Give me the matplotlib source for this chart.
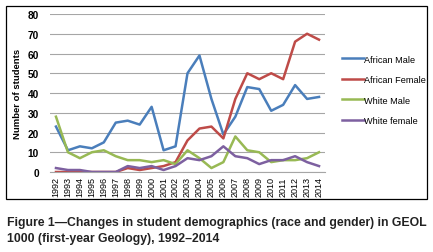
import matplotlib.pyplot as plt
from matplotlib.patches import Rectangle

# Dados
anos = list(range(1992, 2015))
african_male = [23, 11, 13, 12, 15, 25, 26, 24, 33, 11, 13, 50, 59, 37, 19, 28, 43, 42, 31, 34, 44, 37, 38]
african_female = [0, 0, 0, 0, 0, 0, 2, 1, 2, 3, 5, 16, 22, 23, 17, 37, 50, 47, 50, 47, 66, 70, 67]
white_male = [28, 10, 7, 10, 11, 8, 6, 6, 5, 6, 4, 11, 7, 2, 5, 18, 11, 10, 5, 6, 6, 7, 10]
white_female = [2, 1, 1, 0, 0, 0, 3, 2, 3, 1, 3, 7, 6, 8, 13, 8, 7, 4, 6, 6, 8, 5, 3]

series = [
    ("African Male", african_male, "#4A7EBB"),
    ("African Female", african_female, "#BE4B48"),
    ("White Male", white_male, "#98B954"),
    ("White female", white_female, "#7D60A0"),
]

plt.rcParams["font.family"] = ["Liberation Sans", "DejaVu Sans"]

fig = plt.figure(figsize=(4.33, 2.53), dpi=100)

# Moldura do gráfico
fig.patches.append(Rectangle((6 / 433, 1 - 200 / 253), 421 / 433, 193 / 253,
                             transform=fig.transFigure, fill=False, edgecolor="black", linewidth=0.9))

ax = fig.add_axes([50 / 433, 1 - 173 / 253, 275 / 433, 158 / 253])
for nome, valores, cor in series:
    ax.plot(anos, valores, color=cor, linewidth=1.8, label=nome)

ax.set_ylim(0, 80)
ax.set_xlim(1991.5, 2014.5)
ax.set_yticks(range(0, 81, 10))
ax.set_xticks(anos)
ax.set_xticklabels([str(a) for a in anos], rotation=90, fontsize=6.5)
ax.tick_params(axis="y", labelsize=7.3, length=0, pad=8)
ax.tick_params(axis="x", length=0, pad=3)
ax.yaxis.grid(True, color="#A6A6A6", linewidth=0.8)
ax.set_axisbelow(True)
for s in ["top", "right", "left"]:
    ax.spines[s].set_visible(False)
ax.spines["bottom"].set_color("#A6A6A6")
ax.set_ylabel("Number of students", fontsize=6.8, fontweight="bold", labelpad=4)
for lbl in ax.get_yticklabels():
    lbl.set_fontweight("bold")

ax.legend(loc="center left", bbox_to_anchor=(1.05, 0.52), frameon=False, fontsize=6.6,
          handlelength=2.3, handletextpad=0.1, labelspacing=1.25, borderaxespad=0)

fig.text(7 / 433, 1 - 231 / 253,
         "Figure 1\u2014Changes in student demographics (race and gender) in GEOL\n1000 (first-year Geology), 1992\u20132014",
         fontsize=8.8, fontweight="bold", va="center", ha="left", linespacing=1.5,
         color="#222222")

plt.savefig("out.png", dpi=100)
